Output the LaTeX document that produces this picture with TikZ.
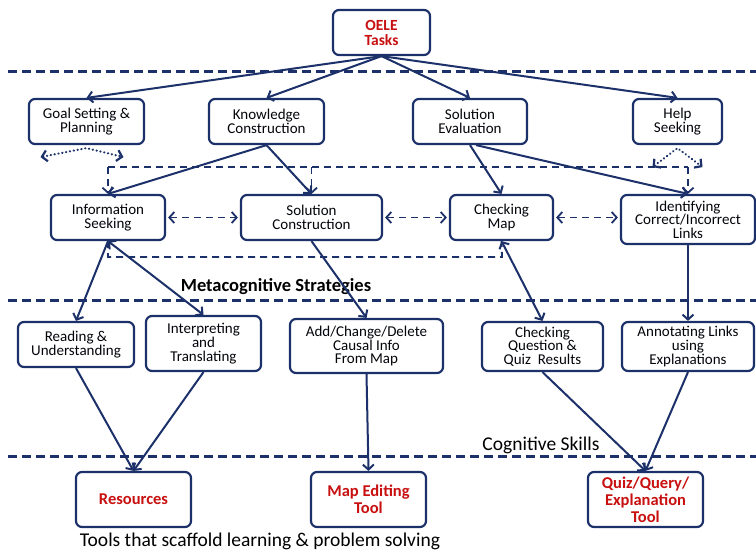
\documentclass[tikz,border=0pt]{standalone}
\usepackage{fontspec}
\setmainfont{Carlito}
\usetikzlibrary{arrows.meta,calc}
\definecolor{navy}{RGB}{28,48,105}
\definecolor{tred}{RGB}{200,16,16}
\begin{document}
\begin{tikzpicture}[x=1pt,y=-1pt,
  box/.style={draw=navy, line width=2.2pt, rounded corners=6pt, fill=white, align=center, inner sep=0pt, text=black!90!navy, font=\fontsize{15}{13.6}\selectfont},
  tool/.style={box, text=tred, font=\fontsize{16.5}{17}\selectfont\bfseries},
  tip/.tip={Straight Barb[length=5pt,width=11pt]},
  arr/.style={draw=navy, line width=2pt, -tip},
  darr/.style={draw=navy, line width=2pt, tip-tip},
  sep/.style={draw=navy, line width=3pt, dash pattern=on 9pt off 5pt},
  dsh/.style={draw=navy, line width=1.8pt, dash pattern=on 7pt off 5pt},
  dotl/.style={draw=navy, line width=2.2pt, line cap=round, dash pattern=on 0.3pt off 3.6pt, tip-tip},
  lbl/.style={inner sep=0pt, font=\fontsize{19.5}{21}\selectfont}
]
\useasboundingbox (0,0) rectangle (756,550);

% separators
\draw[sep] (8,71) -- (756,71);
\draw[sep] (8,300) -- (756,300);
\draw[sep] (8,456) -- (756,456);

% nodes
\node[box, text=tred, font=\fontsize{15.5}{15}\selectfont\bfseries, minimum width=97pt, minimum height=45pt] (oele) at (381.5,32.5) {OELE\\Tasks};

\node[box, minimum width=115pt, minimum height=45pt] (goal) at (86.5,121.5) {Goal Setting \&\\Planning};
\node[box, minimum width=115pt, minimum height=45pt] (know) at (266.5,121.5) {Knowledge\\Construction};
\node[box, minimum width=114pt, minimum height=45pt] (seval) at (470,121.5) {Solution\\Evaluation};
\node[box, minimum width=89pt, minimum height=45pt] (help) at (677.5,121.5) {Help\\Seeking};

\node[box, minimum width=114pt, minimum height=45pt] (infos) at (108,217.5) {Information\\Seeking};
\node[box, minimum width=141pt, minimum height=45pt] (scon) at (311.5,217.5) {Solution\\Construction};
\node[box, minimum width=103pt, minimum height=45pt] (cmap) at (501.5,217.5) {Checking\\Map};
\node[box, minimum width=134pt, minimum height=49pt] (ident) at (688,219.5) {Identifying\\Correct/Incorrect\\Links};

\node[box, minimum width=116pt, minimum height=45pt] (read) at (76,344.5) {Reading \&\\Understanding};
\node[box, minimum width=115pt, minimum height=55pt] (interp) at (203.5,343.5) {Interpreting\\and\\Translating};
\node[box, minimum width=153pt, minimum height=54pt] (addc) at (366.5,346) {Add/Change/Delete\\Causal Info\\From Map};
\node[box, minimum width=121pt, minimum height=49pt] (checkq) at (542.5,346.5) {Checking\\Question \&\\Quiz\ \ Results};
\node[box, minimum width=132pt, minimum height=49pt] (annot) at (688,346.5) {Annotating Links\\using\\Explanations};

\node[tool, minimum width=115pt, minimum height=55pt] (res) at (133.5,499.5) {Resources};
\node[tool, minimum width=115pt, minimum height=55pt] (medit) at (368.5,499.5) {Map Editing\\Tool};
\node[tool, minimum width=115pt, minimum height=55pt] (quiz) at (645.5,499.5) {Quiz/Query/\\Explanation\\Tool};

% labels
\node[lbl, font=\fontsize{18.5}{20}\selectfont\bfseries] (meta) at (276,287) {Metacognitive Strategies};
\node[lbl] (cog) at (541,445) {Cognitive Skills};
\node[lbl] (tools) at (260,541) {Tools that scaffold learning \& problem solving};

% arrows from OELE
\draw[arr] (oele.south) -- (goal.north);
\draw[arr] (oele.south) -- (know.north);
\draw[arr] (oele.south) -- (seval.north);
\draw[arr] (oele.south) -- (help.north);

% dotted arrows
\draw[dotl] ($(goal.south)+(-46,12)$) -- ($(goal.south)+(0,3)$) -- ($(goal.south)+(37,12)$);
\draw[dotl] ($(help.south)+(-25,22)$) -- ($(help.south)+(0,3)$) -- ($(help.south)+(25,22)$);

% strategy arrows
\draw[arr] (know.south) -- (infos.north);
\draw[arr] (know.south) -- (scon.north);
\draw[arr] (seval.south) -- (cmap.north);
\draw[arr] ($(seval.south)+(6,0)$) -- (ident.north);

% dashed frame
\coordinate (fl) at (108,167);
\coordinate (fr) at (688,167);
\draw[dsh] (fl) -- (fr);
\draw[dsh,-tip] (fl) -- (infos.north);
\draw[dsh,-tip] (scon.north |- fl) -- (scon.north);
\draw[dsh,-tip] (fr) -- (ident.north);
\coordinate (bl) at (108,257);
\coordinate (br) at (502,257);
\draw[dsh] (infos.south) -- (bl) -- (br) -- (cmap.south);

% dashed double arrows
\draw[dsh,tip-tip] ($(infos.east)+(2,0)$) -- ($(scon.west)+(-2,0)$);
\draw[dsh,tip-tip] ($(scon.east)+(2,0)$) -- ($(cmap.west)+(-2,0)$);
\draw[dsh,tip-tip] ($(cmap.east)+(2,0)$) -- ($(cmap.east -| ident.west)+(-2,0)$);

% to cognitive skills
\draw[arr] (infos.south) -- (read.north);
\draw[darr] (infos.south) -- (interp.north);
\draw[arr] (scon.south) -- (addc.north);
\draw[darr] (cmap.south) -- (checkq.north);
\draw[arr] (ident.south) -- (annot.north);

% to tools
\draw[arr] (read.south) -- (res.north);
\draw[arr] (interp.south) -- (res.north);
\draw[arr] (addc.south) -- (medit.north);
\draw[arr] (checkq.south) -- (quiz.north);
\draw[arr] (annot.south) -- (quiz.north);
\end{tikzpicture}
\end{document}
